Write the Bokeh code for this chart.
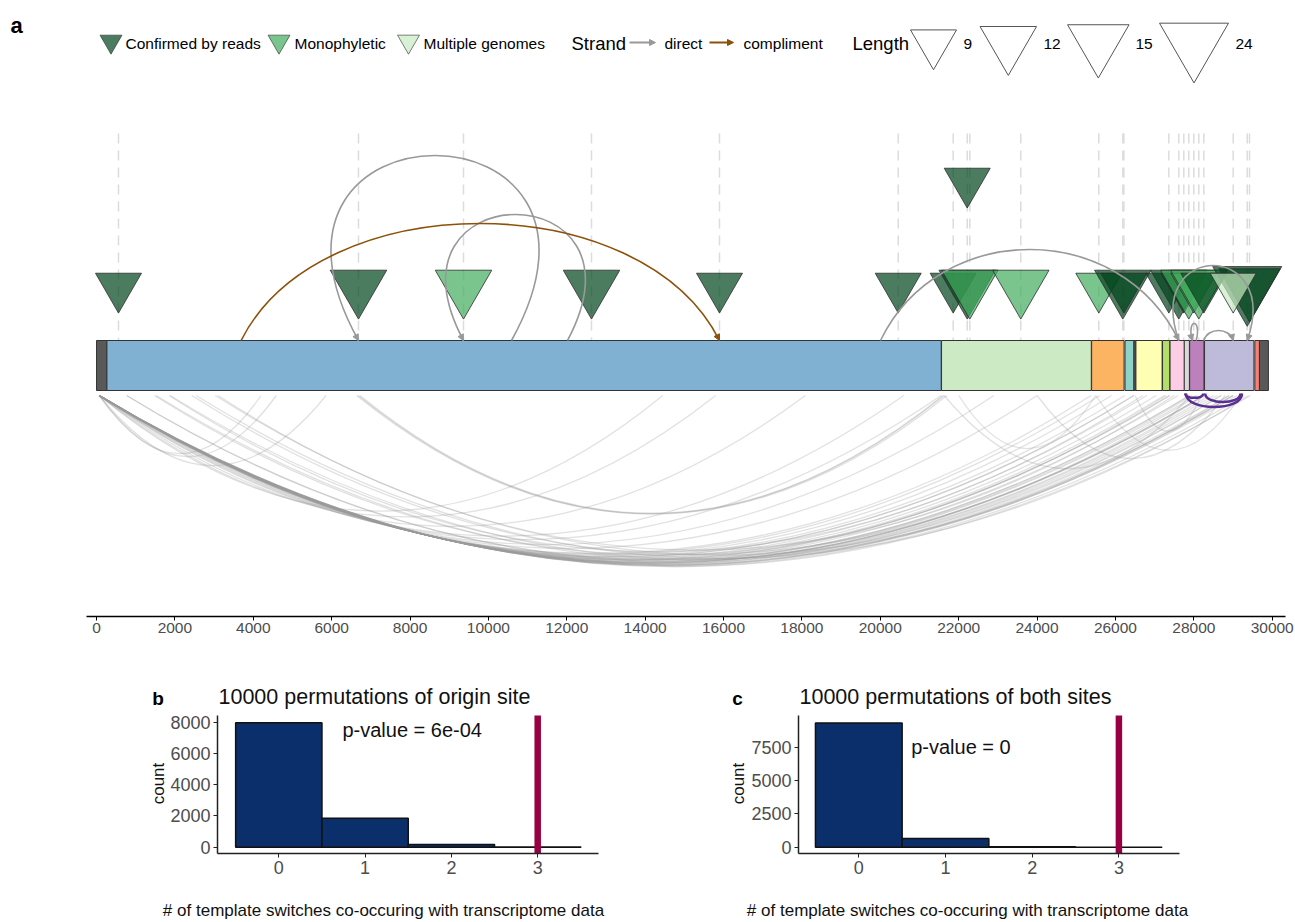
import math
from bokeh.plotting import figure
from bokeh.models import (Range1d, FixedTicker, NumeralTickFormatter,
                          Arrow, NormalHead, ColumnDataSource)
from bokeh.layouts import column, row
from bokeh.embed import file_html
from bokeh.resources import INLINE
from bokeh.core.properties import value

FONT = "Liberation Sans"

# ------------------------------------------------------------------ data
genome_ticks = [0, 2000, 4000, 6000, 8000, 10000, 12000, 14000, 16000,
                18000, 20000, 22000, 24000, 26000, 28000, 30000]

segment_names = ["5'UTR", "ORF1ab", "S", "ORF3a", "E", "IG", "M", "ORF6",
                 "ORF7a", "ORF7b", "ORF8", "N", "ORF10", "3'UTR"]
segment_start = [1, 266, 21563, 25393, 26245, 26472, 26523, 27202,
                 27394, 27756, 27894, 28274, 29558, 29675]
segment_end = [265, 21555, 25384, 26220, 26472, 26523, 27191, 27387,
               27759, 27887, 28259, 29533, 29674, 29903]

site_pos = [561, 6685, 9365, 12631, 15897, 20457, 21860, 22218, 22284,
            23585, 25575, 26188, 26215, 27362, 27617, 27744, 27872, 28000,
            28127, 28255, 29362, 29421, 22218, 29005]
site_len = [9, 12, 12, 12, 9, 9, 9, 12, 12,
            12, 9, 12, 9, 9, 12, 9, 12, 9,
            12, 9, 24, 15, 9, 9]
site_type = ["Confirmed by reads", "Confirmed by reads", "Monophyletic",
             "Confirmed by reads", "Confirmed by reads", "Confirmed by reads",
             "Confirmed by reads", "Confirmed by reads", "Monophyletic",
             "Monophyletic", "Monophyletic", "Confirmed by reads",
             "Confirmed by reads", "Confirmed by reads", "Confirmed by reads",
             "Confirmed by reads", "Monophyletic", "Monophyletic",
             "Monophyletic", "Confirmed by reads", "Confirmed by reads",
             "Confirmed by reads", "Confirmed by reads", "Multiple genomes"]
site_row = [1, 1, 1, 1, 1, 1, 1, 1, 1, 1, 1, 1, 1, 1, 1, 1, 1, 1, 1, 1, 1, 1, 2, 1]

switch_from = [3690, 10590, 12018, 20005, 27617, 28060, 28255]
switch_to = [15897, 6685, 9365, 27617, 29362, 27960, 29005]
switch_strand = ["compliment", "direct", "direct", "direct", "direct", "direct", "direct"]

junction_from = [70, 70, 70, 70, 70, 70, 70, 70, 70, 70, 70, 70, 70, 70, 70, 70,
                 70, 70, 70, 70, 70, 70, 70, 70, 70, 70, 70, 70, 70, 70, 70, 70,
                 75, 75, 75, 65, 65, 60,
                 770, 770, 1480, 1520, 1850, 1880, 2430, 2540, 3030, 3100,
                 6640, 6680, 6720,
                 21630, 22000, 24000, 25500, 26500]
junction_to = [4200, 4590, 5860, 14450, 15800, 18090, 20600, 21552, 22900, 24000,
               25381, 25600, 25900, 26237, 26469, 26800, 27041, 27250, 27385,
               27600, 27887, 28050, 28254, 28300, 28500, 28600, 28700, 28900,
               29000, 29100, 29300, 29450,
               28254, 26469, 27385, 28254, 27887, 29000,
               27950, 28400, 27300, 28700, 26700, 29000, 28100, 29400, 28900, 27500,
               21630, 21700, 21600,
               27900, 25500, 28800, 29200, 28200]

tx_from = [27780, 28290, 27800]
tx_to = [28240, 29190, 29230]

type_levels = ["Confirmed by reads", "Monophyletic", "Multiple genomes"]
strand_levels = ["direct", "compliment"]
length_levels = [9, 12, 15, 24]

perm_values = [0, 1, 2, 3]
origin_counts = [7960, 1860, 174, 6]
both_counts = [9320, 655, 25, 0]
observed_switches = 3
origin_yticks = [0, 2000, 4000, 6000, 8000]
both_yticks = [0, 2500, 5000, 7500]
origin_title = "10000 permutations of origin site"
both_title = "10000 permutations of both sites"
origin_p = "p-value = 6e-04"
both_p = "p-value = 0"
hist_xlabel = "# of template switches co-occuring with transcriptome data"
hist_ylabel = "count"

# ------------------------------------------------------------------ styles
segment_color = ["#595959", "#80B1D3", "#CCEBC5", "#FDB462", "#8DD3C7", "#595959",
                 "#FFFFB3", "#B3DE69", "#FCCDE5", "#D9D9D9", "#BC80BD", "#BEBADA",
                 "#FB8072", "#595959"]
type_color = {"Confirmed by reads": "#00441b", "Monophyletic": "#41ab5d",
              "Multiple genomes": "#c7e9c0"}
strand_color = {"direct": "#999999", "compliment": "#8c510a"}
length_px = {9: 46, 12: 56.5, 15: 61.5, 24: 69}
row_y = {1: 286, 2: 181}
arc_peak = [223, 155, 214, 249, 265, 323, 330]
arc_bulge = [-2000, 3500, 2300, -1500, 900, 150, -100]

K = 0.03919      # px per genome position
X0PX = 96        # page x of position 0
BAR_TOP, BAR_BOT = 340, 390
PAGE_W = 1294


def gx(px):
    return (px - X0PX) / K


# ------------------------------------------------------------------ panel a
pa = figure(width=PAGE_W, height=672, x_range=Range1d(gx(0), gx(PAGE_W)),
            y_range=Range1d(616, 0), output_backend="svg", toolbar_location=None,
            y_axis_location=None, min_border_left=0, min_border_right=0,
            min_border_top=0, min_border_bottom=56, title=None)
pa.extra_x_ranges = {"px": Range1d(0, PAGE_W)}
pa.grid.visible = False
pa.outline_line_color = None
pa.background_fill_color = "white"

ax = pa.xaxis[0]
ax.ticker = FixedTicker(ticks=genome_ticks)
ax.formatter = NumeralTickFormatter(format="0")
ax.bounds = (gx(86), gx(1285))
ax.axis_line_color = "black"
ax.axis_line_width = 1.5
ax.major_tick_line_color = "black"
ax.major_tick_line_width = 1
ax.major_tick_out = 4
ax.major_tick_in = 0
ax.minor_tick_line_color = None
ax.major_label_text_font = FONT
ax.major_label_text_font_size = "15.5px"
ax.major_label_text_color = "#4d4d4d"
ax.major_label_standoff = 2

# lower junction arcs
J_Y0 = 395
jd = dict(x0=[], x1=[], y0=[], y1=[], cx0=[], cx1=[], cy0=[], cy1=[])
for a, b in zip(junction_from, junction_to):
    span = b - a
    depth = 170 * (span / 29000) ** 0.55
    cy = J_Y0 + depth / 0.75
    jd["x0"].append(a); jd["x1"].append(b)
    jd["y0"].append(J_Y0); jd["y1"].append(J_Y0)
    jd["cx0"].append(a + span / 3); jd["cx1"].append(a + 2 * span / 3)
    jd["cy0"].append(cy); jd["cy1"].append(cy)
pa.bezier(source=ColumnDataSource(jd), x0="x0", y0="y0", x1="x1", y1="y1",
          cx0="cx0", cy0="cy0", cx1="cx1", cy1="cy1",
          line_color="#9a9a9a", line_alpha=0.3, line_width=1.3)

# transcript junctions (purple)
td = dict(x0=[], x1=[], y0=[], y1=[], cx0=[], cx1=[], cy0=[], cy1=[])
for a, b in zip(tx_from, tx_to):
    span = b - a
    depth = 0.0095 * span
    cy = 393 + depth / 0.75
    td["x0"].append(a); td["x1"].append(b)
    td["y0"].append(393); td["y1"].append(393)
    td["cx0"].append(a); td["cx1"].append(b)
    td["cy0"].append(cy); td["cy1"].append(cy)
pa.bezier(source=ColumnDataSource(td), x0="x0", y0="y0", x1="x1", y1="y1",
          cx0="cx0", cy0="cy0", cx1="cx1", cy1="cy1",
          line_color="#5a2d91", line_width=2.5)

# dashed vertical guides
upos = sorted(set(site_pos))
pa.segment(x0=upos, x1=upos, y0=[133] * len(upos), y1=[BAR_TOP] * len(upos),
           line_color="#dcdcdc", line_width=1.5, line_dash="10 7")

# triangles
tri = ColumnDataSource(dict(
    x=site_pos,
    y=[row_y[r] for r in site_row],
    size=[length_px[l] for l in site_len],
    color=[type_color[t] for t in site_type]))
pa.scatter(x="x", y="y", size="size", marker="inverted_triangle", source=tri,
           fill_color="color", fill_alpha=0.7, line_color="#2d2d2d",
           line_alpha=0.8, line_width=1)

# genome bar
pa.quad(left=segment_start, right=segment_end, top=[BAR_TOP] * len(segment_start),
        bottom=[BAR_BOT] * len(segment_start), fill_color=segment_color,
        line_color="#333333", line_width=1)

# template switch arcs
for strand in strand_levels:
    d = dict(x0=[], x1=[], y0=[], y1=[], cx0=[], cx1=[], cy0=[], cy1=[])
    ar = dict(xs=[], ys=[], xe=[], ye=[])
    for a, b, s, pk, bl in zip(switch_from, switch_to, switch_strand, arc_peak, arc_bulge):
        if s != strand:
            continue
        sg = 1 if b > a else -1
        cy = (8 * pk - 2 * BAR_TOP) / 6
        c0 = a - sg * bl
        c1 = b + sg * bl
        d["x0"].append(a); d["x1"].append(b)
        d["y0"].append(BAR_TOP); d["y1"].append(BAR_TOP)
        d["cx0"].append(c0); d["cx1"].append(c1)
        d["cy0"].append(cy); d["cy1"].append(cy)
        vx = (b - c1) * K
        vy = BAR_TOP - cy
        n = math.hypot(vx, vy)
        ar["xs"].append(b - vx / n * 4 / K); ar["ys"].append(BAR_TOP - vy / n * 4)
        ar["xe"].append(b); ar["ye"].append(BAR_TOP)
    col = strand_color[strand]
    pa.bezier(source=ColumnDataSource(d), x0="x0", y0="y0", x1="x1", y1="y1",
              cx0="cx0", cy0="cy0", cx1="cx1", cy1="cy1",
              line_color=col, line_width=1.6)
    pa.add_layout(Arrow(source=ColumnDataSource(ar), x_start="xs", y_start="ys",
                        x_end="xe", y_end="ye", line_color=col, line_width=1.2,
                        end=NormalHead(size=6, fill_color=col, line_color=col)))

# ---- panel letter and legend (drawn on the pixel range)
pa.text(x=[10], y=[25], text=["a"], x_range_name="px", text_font=value(FONT),
        text_font_style="bold", text_font_size=value("22px"),
        text_baseline="alphabetic", text_color="black")
pa.scatter(x=[110.5, 278.5, 408], y=[41, 41, 41], size=22, marker="inverted_triangle",
           x_range_name="px", fill_color=[type_color[t] for t in type_levels],
           fill_alpha=0.7, line_color="#2d2d2d", line_alpha=0.6, line_width=1)
pa.text(x=[125, 294, 423], y=[43, 43, 43], text=type_levels, x_range_name="px",
        text_font=value(FONT), text_font_size=value("15.5px"),
        text_baseline="middle", text_color="black")
pa.text(x=[571], y=[43], text=["Strand"], x_range_name="px", text_font=value(FONT),
        text_font_size=value("18.5px"), text_baseline="middle", text_color="black")
pa.text(x=[664, 743], y=[43, 43], text=strand_levels, x_range_name="px",
        text_font=value(FONT), text_font_size=value("15.5px"),
        text_baseline="middle", text_color="black")
for xs_, xe_, st in [(629, 655, "direct"), (709, 733, "compliment")]:
    c = strand_color[st]
    pa.add_layout(Arrow(x_start=xs_, y_start=42, x_end=xe_, y_end=42,
                        x_range_name="px", line_color=c, line_width=2,
                        end=NormalHead(size=6, fill_color=c, line_color=c)))
pa.text(x=[852], y=[43], text=["Length"], x_range_name="px", text_font=value(FONT),
        text_font_size=value("18.5px"), text_baseline="middle", text_color="black")
pa.scatter(x=[933, 1007.8, 1097.8, 1193.5], y=[42.7, 42.3, 42, 42.6],
           size=[length_px[l] for l in length_levels], marker="inverted_triangle",
           x_range_name="px", fill_color="white", line_color="#555555", line_width=1)
pa.text(x=[963, 1043, 1135, 1235], y=[43, 43, 43, 43],
        text=[str(l) for l in length_levels], x_range_name="px",
        text_font=value(FONT), text_font_size=value("15.5px"),
        text_baseline="middle", text_color="black")


# ------------------------------------------------------------------ panels b, c
def hist_panel(page_x, width, frame_l, frame_r, x0_px, unit_px, y0_px, per_count,
               counts, yticks, letter, letter_px, title, ptext, ptext_px, palign,
               count_px, xlabel_cx):
    page_y, height = 672, 248
    frame_t, frame_b = 715, 853

    def hx(px):
        return (px - x0_px) / unit_px

    def hy(py):
        return (y0_px - py) / per_count

    p = figure(width=width, height=height,
               x_range=Range1d(hx(page_x), hx(page_x + width)),
               y_range=Range1d(hy(page_y + height), hy(page_y)),
               output_backend="svg", toolbar_location=None, title=None,
               min_border_left=0, min_border_right=0, min_border_top=0,
               min_border_bottom=0)
    p.grid.visible = False
    p.outline_line_color = None
    p.quad(left=[v - 0.5 for v in perm_values], right=[v + 0.5 for v in perm_values],
           bottom=[0] * len(perm_values), top=counts, fill_color="#0a2f6b",
           line_color="#111111", line_width=1.5)
    p.segment(x0=[observed_switches], x1=[observed_switches], y0=[hy(frame_b)],
              y1=[hy(frame_t)], line_color="#990044", line_width=6.5)

    xa, ya = p.xaxis[0], p.yaxis[0]
    xa.fixed_location = hy(frame_b)
    xa.bounds = (hx(frame_l), hx(frame_r))
    ya.fixed_location = hx(frame_l)
    ya.bounds = (hy(frame_b), hy(frame_t))
    for a in (xa, ya):
        a.axis_line_color = "#222222"
        a.axis_line_width = 1.5
        a.major_tick_line_color = "#222222"
        a.major_tick_out = 4
        a.major_tick_in = 0
        a.minor_tick_line_color = None
        a.major_label_text_font = FONT
        a.major_label_text_font_size = "18px"
        a.major_label_text_color = "#4d4d4d"
        a.major_label_standoff = 3
    xa.ticker = FixedTicker(ticks=perm_values)
    ya.ticker = FixedTicker(ticks=yticks)

    def lab(px, py, text, size, **kw):
        p.text(x=[hx(px)], y=[hy(py)], text=[text], text_font=value(FONT),
               text_font_size=value(size), **kw)
    lab(letter_px, 698, letter, "19px", text_font_style="bold",
        text_baseline="alphabetic", text_align="left", text_color="black")
    lab(frame_l + 1, 696, title, "21.5px", text_baseline="alphabetic",
        text_align="left", text_color="#111111")
    lab(ptext_px[0], ptext_px[1], ptext, "20px", text_baseline="alphabetic",
        text_align=palign, text_color="#111111")
    lab(count_px, 783, hist_ylabel, "17px", text_baseline="middle",
        text_align="center", angle=math.pi / 2, text_color="#111111")
    lab(xlabel_cx, 910, hist_xlabel, "17px", text_baseline="middle",
        text_align="center", text_color="#111111")
    return p


pb = hist_panel(0, 647, 217, 598, 278.3, 86.3, 846.7, 0.015625, origin_counts,
                origin_yticks, "b", 151.7, origin_title, origin_p, (411.7, 729),
                "center", 158, 383)
pc = hist_panel(647, 647, 798, 1179, 858.3, 86.7, 846.7, 0.0133333, both_counts,
                both_yticks, "c", 731.7, both_title, both_p, (910.7, 746),
                "left", 738.3, 967)

layout = column(pa, row(pb, pc))
open("out.html", "w").write(file_html(layout, INLINE))
